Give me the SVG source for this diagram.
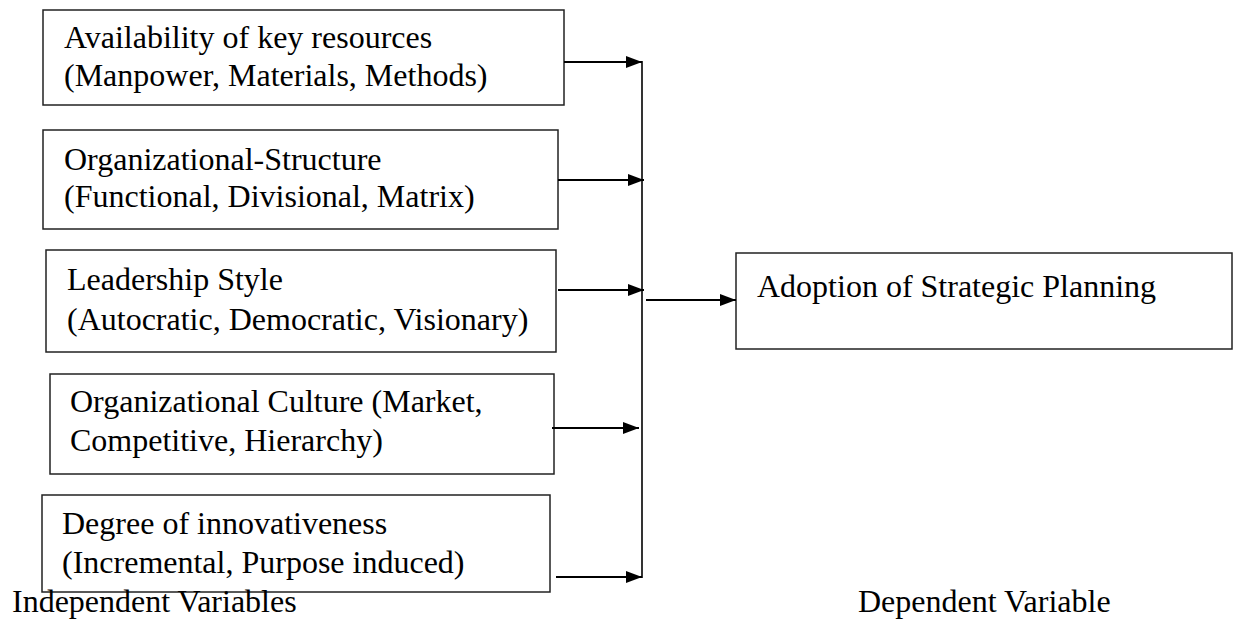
<svg xmlns="http://www.w3.org/2000/svg" width="1233" height="627" viewBox="0 0 1233 627">
<defs>
<style>
.box{fill:#fff;stroke:#222;stroke-width:1.5}
.t{font-family:"Liberation Serif","Times New Roman",serif;font-size:32px;fill:#000}
.c{stroke:#000;stroke-width:2.2;fill:none}
.v{stroke:#000;stroke-width:1.6;fill:none}
</style>
<marker id="ah" markerWidth="16" markerHeight="12" refX="16" refY="6" orient="auto" markerUnits="userSpaceOnUse">
<path d="M0,0 L16,6 L0,12 z" fill="#000"/>
</marker>
</defs>
<rect width="1233" height="627" fill="#fff"/>
<g id="n1"><rect class="box" x="43" y="10" width="521" height="95"/>
<text class="t" x="64" y="48">Availability of key resources</text>
<text class="t" x="64" y="86">(Manpower, Materials, Methods)</text></g>
<g id="n2"><rect class="box" x="43" y="130" width="515" height="99"/>
<text class="t" x="64" y="170">Organizational-Structure</text>
<text class="t" x="64" y="207">(Functional, Divisional, Matrix)</text></g>
<g id="n3"><rect class="box" x="46" y="250" width="510" height="102"/>
<text class="t" x="67" y="290">Leadership Style</text>
<text class="t" x="67" y="330">(Autocratic, Democratic, Visionary)</text></g>
<g id="n4"><rect class="box" x="50" y="374" width="504" height="100"/>
<text class="t" x="70" y="412">Organizational Culture (Market,</text>
<text class="t" x="70" y="451">Competitive, Hierarchy)</text></g>
<g id="n5"><rect class="box" x="42" y="495" width="508" height="97"/>
<text class="t" x="62" y="534">Degree of innovativeness</text>
<text class="t" x="62" y="573">(Incremental, Purpose induced)</text></g>
<g id="target"><rect class="box" x="736" y="253" width="496" height="96"/>
<text class="t" x="757" y="297">Adoption of Strategic Planning</text></g>
<g id="labels">
<text class="t" x="12" y="612">Independent Variables</text>
<text class="t" x="858" y="612">Dependent Variable</text>
</g>
<g id="connectors">
<line class="v" x1="642" y1="61" x2="642" y2="578"/>
<line class="c" x1="564" y1="62" x2="642" y2="62" marker-end="url(#ah)"/>
<line class="c" x1="558" y1="180" x2="644" y2="180" marker-end="url(#ah)"/>
<line class="c" x1="558" y1="290" x2="644" y2="290" marker-end="url(#ah)"/>
<line class="c" x1="552" y1="428" x2="639" y2="428" marker-end="url(#ah)"/>
<line class="c" x1="556" y1="577" x2="642" y2="577" marker-end="url(#ah)"/>
<line class="c" x1="646" y1="300" x2="736" y2="300" marker-end="url(#ah)"/>
</g>
</svg>
